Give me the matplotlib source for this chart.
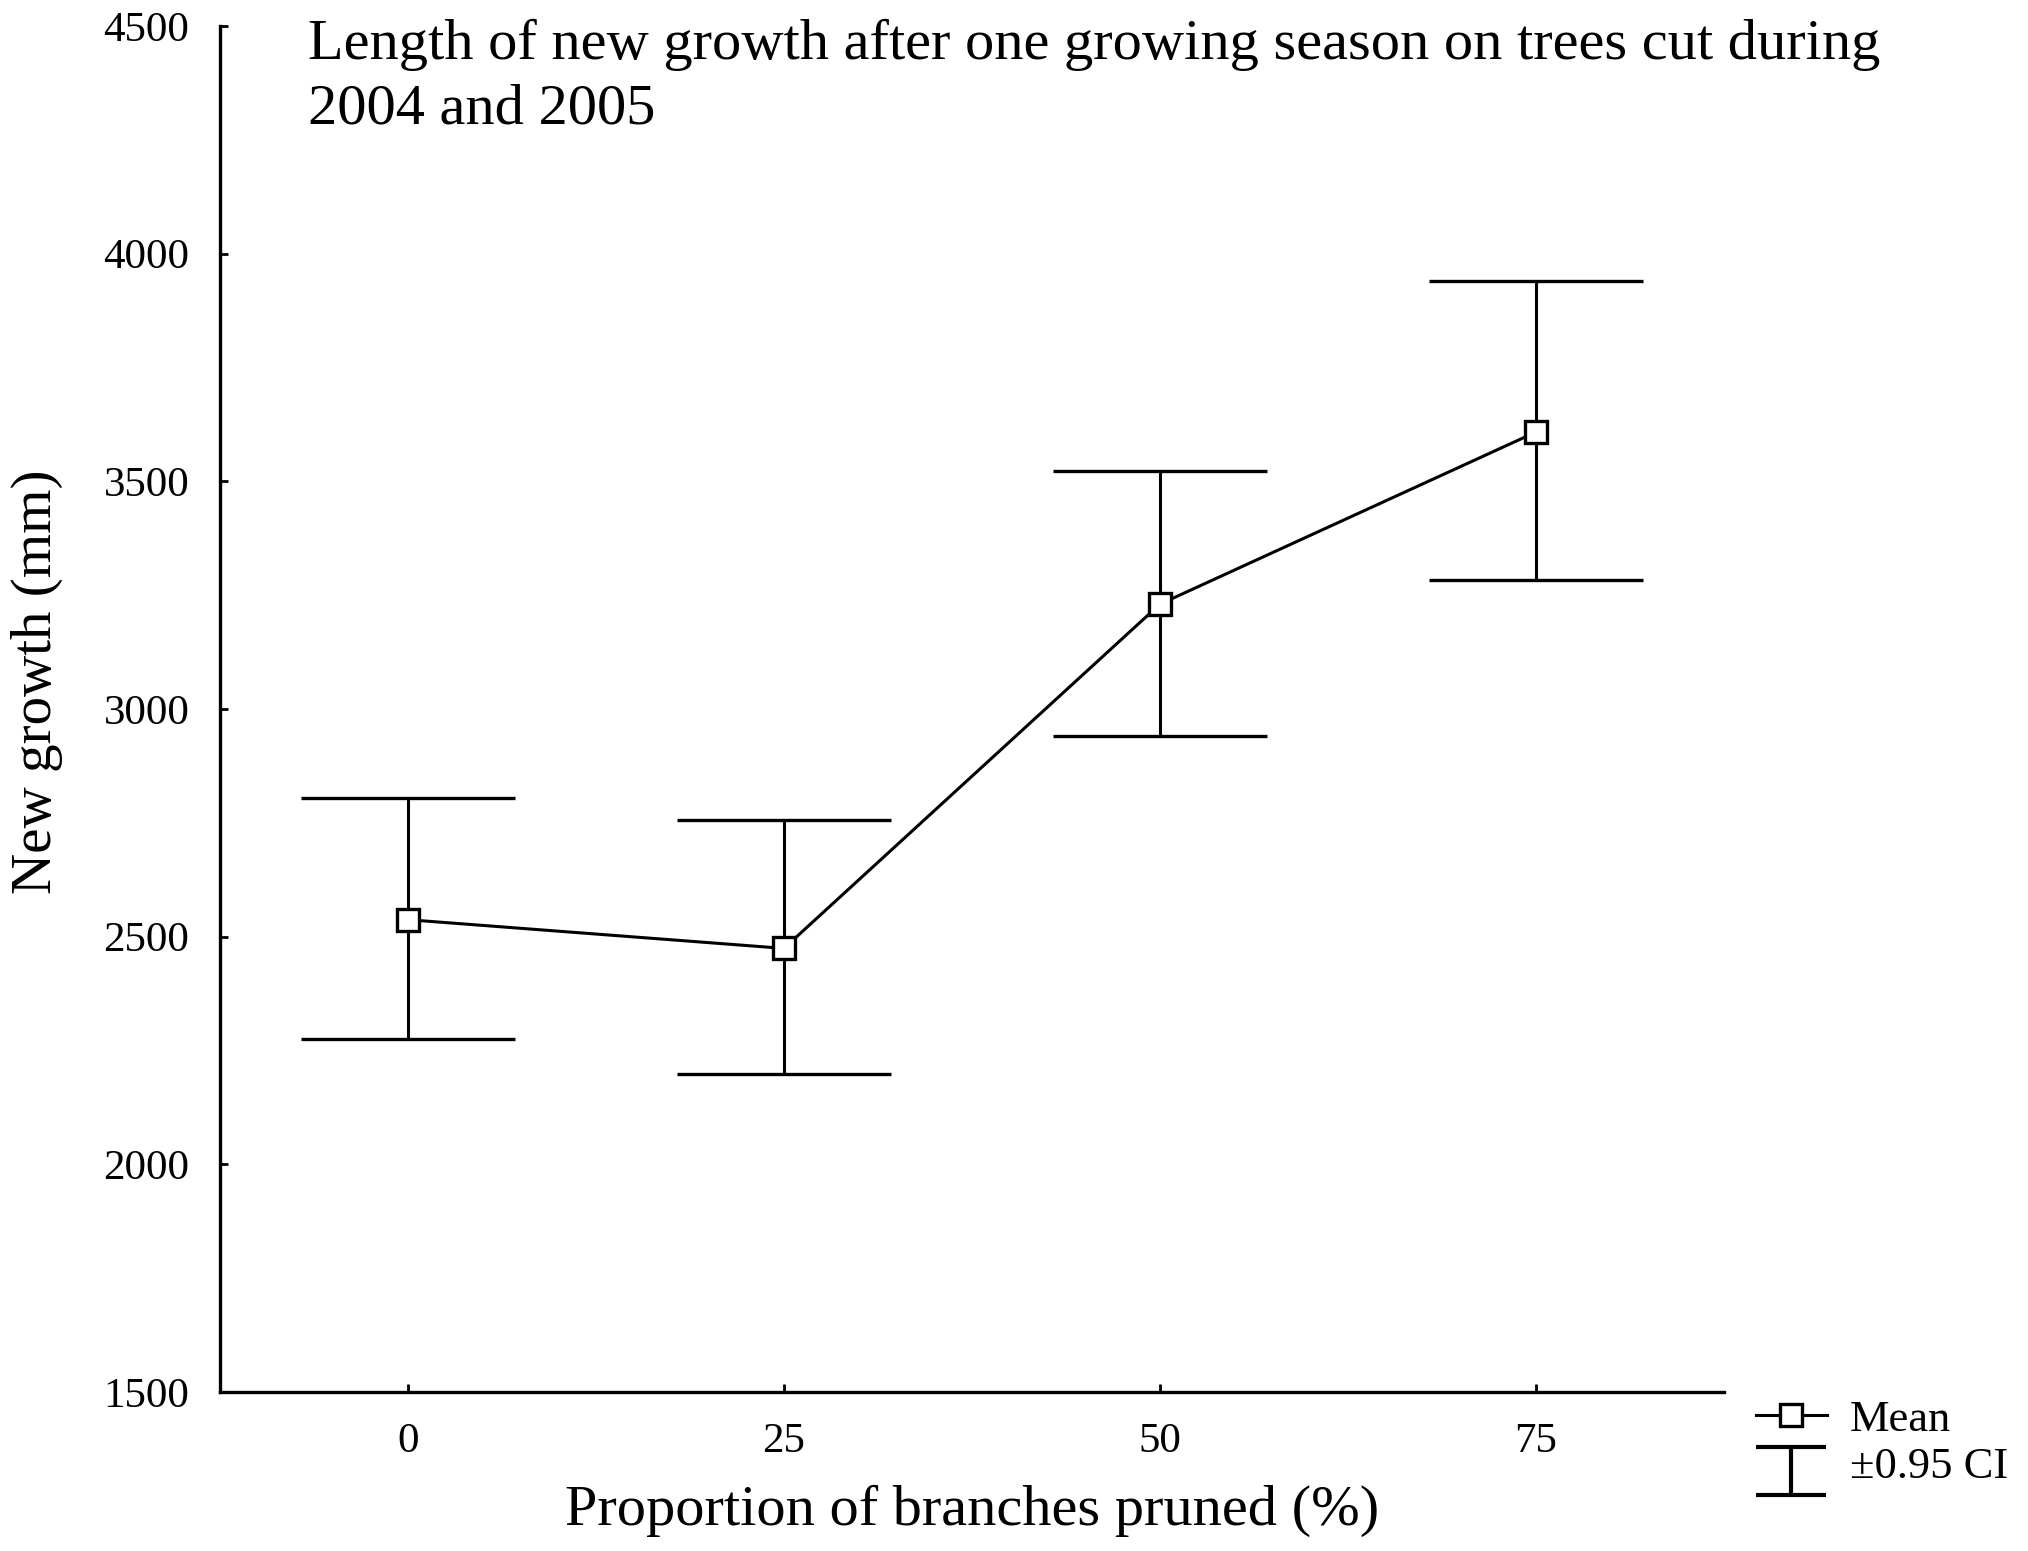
import matplotlib
matplotlib.use("Agg")
import matplotlib.pyplot as plt
from matplotlib.path import Path
from matplotlib.lines import Line2D

# Data
pruned = [0, 25, 50, 75]
mean_growth = [2537, 2474, 3230, 3608]
ci_upper = [2804, 2756, 3523, 3940]
ci_lower = [2276, 2199, 2940, 3284]
yticks = [1500, 2000, 2500, 3000, 3500, 4000, 4500]

title = "Length of new growth after one growing season on trees cut during\n2004 and 2005"
xlabel = "Proportion of branches pruned (%)"
ylabel = "New growth (mm)"

plt.rcParams['font.family'] = ['Liberation Serif', 'DejaVu Serif']

dpi = 100
fig = plt.figure(figsize=(20.28, 15.51), dpi=dpi)
ax = fig.add_axes([0.1084, 0.1026, 0.8501 - 0.1084, 0.9833 - 0.1026])

yerr = [[m - l for m, l in zip(mean_growth, ci_lower)],
        [u - m for m, u in zip(mean_growth, ci_upper)]]
eb = ax.errorbar(pruned, mean_growth, yerr=yerr, color='black', lw=2.2,
                 marker='s', markersize=16, markerfacecolor='white',
                 markeredgecolor='black', markeredgewidth=2.4,
                 ecolor='black', elinewidth=2.2, capsize=76.7, capthick=3.0,
                 zorder=3)

ax.set_xlim(-12.5, 87.5)
ax.set_ylim(1500, 4500)
ax.set_xticks(pruned)
ax.set_xticklabels([str(p) for p in pruned])
ax.set_yticks(yticks)
ax.set_yticklabels([str(t) for t in yticks])

for s in ['top', 'right']:
    ax.spines[s].set_visible(False)
for s in ['left', 'bottom']:
    ax.spines[s].set_linewidth(2.4)

ax.tick_params(direction='in', length=6, width=2, labelsize=31, pad=22)

ax.set_xlabel(xlabel, fontsize=42)
ax.set_ylabel(ylabel, fontsize=41)
ax.xaxis.set_label_coords(0.5, -0.068)
ax.yaxis.set_label_coords(-0.104, 0.52)

fig.text(308 / 2028, 0.988, title, fontsize=42, ha='left', va='top',
         linespacing=1.32)

# Legend
ibar = Path([(-1, 0.43), (1, 0.43), (0, 0.43), (0, -0.93), (-1, -0.93), (1, -0.93)],
            [Path.MOVETO, Path.LINETO, Path.MOVETO, Path.LINETO,
             Path.MOVETO, Path.LINETO])
h_mean = Line2D([], [], color='black', lw=2.2, marker='s', markersize=16,
                markerfacecolor='white', markeredgecolor='black',
                markeredgewidth=2.4)
h_ci = Line2D([], [], linestyle='none', marker=ibar, markersize=51,
              markerfacecolor='none', markeredgecolor='black',
              markeredgewidth=3.0)
fig.legend([h_mean, h_ci], ['Mean', '\u00b10.95 CI'], loc='upper left',
           bbox_to_anchor=(0.857, 0.109), frameon=False, fontsize=32,
           handlelength=1.6, handletextpad=0.52, labelspacing=0.15,
           borderaxespad=0)

fig.savefig('out.png', dpi=dpi)
